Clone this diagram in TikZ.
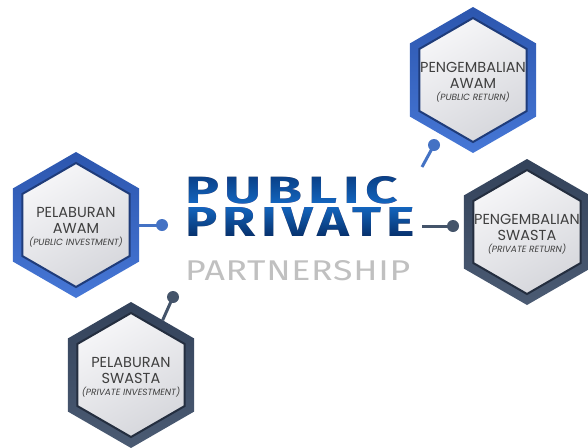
\documentclass[tikz,border=0pt]{standalone}
\usepackage{fontspec}
\newfontfamily\hexfont{Poppins}
\newfontfamily\titlefont[LetterSpace=10]{Fira Sans}
\newfontfamily\partfont[LetterSpace=2]{Fira Sans}
\usetikzlibrary{shapes.geometric}

\definecolor{accblue}{HTML}{4472C4}
\definecolor{ringblueA}{HTML}{2C56AE}
\definecolor{ringblueB}{HTML}{4677D6}
\definecolor{accslate}{HTML}{44546A}
\definecolor{ringslateA}{HTML}{33425A}
\definecolor{ringslateB}{HTML}{4B5B73}
\definecolor{hexlight}{HTML}{F6F6F8}
\definecolor{hexdark}{HTML}{D6D7DC}
\definecolor{hexgray}{HTML}{3F3F3F}
\definecolor{partgray}{HTML}{C0C0C0}
\definecolor{navyA}{HTML}{08377A}
\definecolor{navyB}{HTML}{1468C2}
\definecolor{navyC}{HTML}{052A62}

\tikzset{
  hexshape/.style={regular polygon, regular polygon sides=6, shape border rotate=30, inner sep=0pt, outer sep=0pt},
  bluering/.style={hexshape, minimum size=146pt, top color=ringblueA, bottom color=ringblueB},
  slatering/.style={hexshape, minimum size=146pt, top color=ringslateA, bottom color=ringslateB},
  hexcore/.style={hexshape, minimum size=124pt, draw=#1, line width=2pt, top color=hexlight, bottom color=hexdark, shading angle=30},
  hexlabel/.style={font=\hexfont\fontsize{14.5}{16}\selectfont, text=hexgray, align=center, inner sep=0pt, anchor=base},
  sublabel/.style={font=\hexfont\itshape\fontsize{9}{9}\selectfont, text=hexgray, inner sep=0pt, anchor=base},
  dotnode/.style={circle, fill=#1, inner sep=0pt, minimum size=12pt},
  link/.style={draw=#1, line width=3pt},
  titleword/.style={inner sep=0pt, anchor=base west, text=navyC}
}

\begin{document}
\begin{tikzpicture}[x=1pt, y=-1pt]
  \fill[white] (0,0) rectangle (588,447);
  \useasboundingbox (0,0) rectangle (588,447);
  % 标题
  \node[titleword] (tpub) at (185,203) {\resizebox{213pt}{27pt}{\titlefont\bfseries PUBLIC}};
  \node[titleword] (tpriv) at (185,236) {\resizebox{230pt}{29pt}{\titlefont\bfseries PRIVATE}};
  \shade[blend mode=lighten, top color=navyA, bottom color=navyC, middle color=navyB] (180,170) rectangle (418,240);
  \node[anchor=base west, inner sep=0pt, text=partgray] (tpart) at (185,280) {\resizebox{225pt}{20pt}{\partfont PARTNERSHIP}};
  % 连接点
  \coordinate (d1) at (434,145);
  \coordinate (c1) at (422,167);
  \coordinate (d2) at (162,225);
  \coordinate (d3) at (173,297);
  \coordinate (d4) at (453,226);
  \coordinate (c4) at (422,226);
  % 六边形
  \node[bluering] (h1) at (473,80) {};
  \node[hexcore=ringblueA!70!black] (h1in) at (h1) {};
  \node[bluering] (h2) at (76,225) {};
  \node[hexcore=ringblueA!70!black] (h2in) at (h2) {};
  \node[slatering] (h3) at (131,375) {};
  \node[hexcore=ringslateA!70!black] (h3in) at (h3) {};
  \node[slatering] (h4) at (527,232) {};
  \node[hexcore=ringslateA!70!black] (h4in) at (h4) {};
  % 连线
  \draw[link=accblue] (d1) -- (c1);
  \draw[link=accblue] (h2.east) -- (d2);
  \draw[link=accslate] (h3.60) -- (d3);
  \draw[link=accslate] (c4) -- (d4);
  \node[dotnode=accblue] (p1) at (d1) {};
  \node[dotnode=accblue] (p2) at (d2) {};
  \node[dotnode=accslate] (p3) at (d3) {};
  \node[dotnode=accslate] (p4) at (d4) {};
  % 文字
  \node[hexlabel] (h1a) at ([yshift=-8pt]h1.center) {PENGEMBALIAN\\AWAM};
  \node[sublabel] (h1b) at ([yshift=-20pt]h1.center) {(PUBLIC RETURN)};
  \node[hexlabel] (h2a) at ([yshift=-8pt]h2.center) {PELABURAN\\AWAM};
  \node[sublabel] (h2b) at ([yshift=-20pt]h2.center) {(PUBLIC INVESTMENT)};
  \node[hexlabel] (h3a) at ([yshift=-8pt]h3.center) {PELABURAN\\SWASTA};
  \node[sublabel] (h3b) at ([yshift=-20pt]h3.center) {(PRIVATE INVESTMENT)};
  \node[hexlabel] (h4a) at ([yshift=-8pt]h4.center) {PENGEMBALIAN\\SWASTA};
  \node[sublabel] (h4b) at ([yshift=-20pt]h4.center) {(PRIVATE RETURN)};
\end{tikzpicture}
\end{document}
